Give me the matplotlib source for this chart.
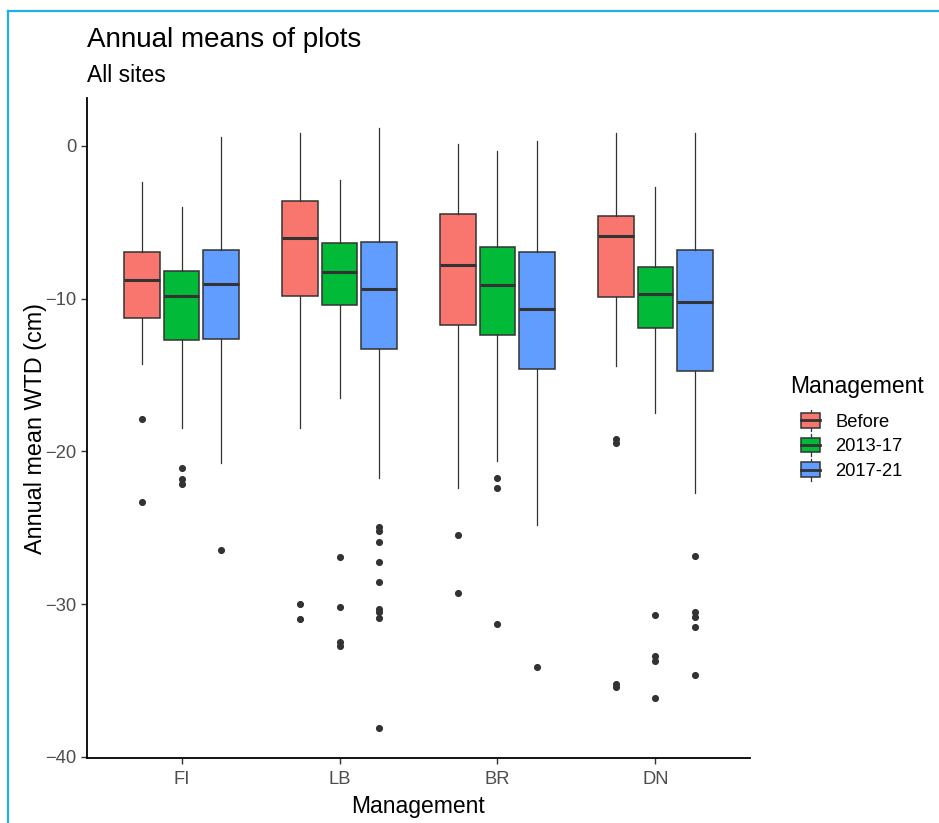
import matplotlib
matplotlib.use("Agg")
import matplotlib.pyplot as plt
from matplotlib.lines import Line2D
from matplotlib.patches import Rectangle, Patch
from matplotlib.legend_handler import HandlerBase

plt.rcParams['font.family'] = ['Liberation Sans', 'DejaVu Sans']

sites = ["FI", "LB", "BR", "DN"]
groups = ["Before", "2013-17", "2017-21"]
colors = ["#F8766D", "#00BA38", "#619CFF"]

# box stats per management group, one value per site (FI, LB, BR, DN)
before_whishi = [-2.33, 0.87, 0.13, 0.87]
before_q3 = [-6.97, -3.61, -4.44, -4.59]
before_med = [-8.78, -6.03, -7.82, -5.88]
before_q1 = [-11.29, -9.85, -11.74, -9.91]
before_whislo = [-14.26, -18.45, -22.37, -14.42]
before_fliers = [[-17.9, -23.3], [-30.02, -30.98], [-25.49, -29.28],
                 [-19.2, -19.45, -35.25, -35.4]]

g1317_whishi = [-3.97, -2.24, -0.33, -2.66]
g1317_q3 = [-8.17, -6.38, -6.6, -7.93]
g1317_med = [-9.82, -8.27, -9.08, -9.67]
g1317_q1 = [-12.70, -10.44, -12.4, -11.94]
g1317_whislo = [-18.45, -16.51, -20.61, -17.47]
g1317_fliers = [[-21.09, -21.83, -22.14], [-26.89, -30.17, -32.5, -32.72],
                [-21.76, -22.37, -31.29], [-30.7, -33.4, -33.7, -36.12]]

g1721_whishi = [0.57, 1.18, 0.35, 0.87]
g1721_q3 = [-6.82, -6.32, -6.97, -6.82]
g1721_med = [-9.02, -9.39, -10.65, -10.2]
g1721_q1 = [-12.61, -13.29, -14.6, -14.75]
g1721_whislo = [-20.74, -21.72, -24.84, -22.7]
g1721_fliers = [[-26.45],
                [-24.97, -25.21, -25.92, -27.25, -28.52, -30.33, -30.48, -30.89, -38.10],
                [-34.09], [-26.82, -30.54, -30.83, -31.5, -34.62]]

all_stats = [
    (before_whislo, before_q1, before_med, before_q3, before_whishi, before_fliers),
    (g1317_whislo, g1317_q1, g1317_med, g1317_q3, g1317_whishi, g1317_fliers),
    (g1721_whislo, g1721_q1, g1721_med, g1721_q3, g1721_whishi, g1721_fliers),
]

fig = plt.figure(figsize=(9.39, 8.23), dpi=100)
ax = fig.add_axes([87/939, 1-758/823, (750-87)/939, (758-98)/823])

edge = "#333333"
offsets = [-0.25, 0, 0.25]
for gi, (wlo, q1, med, q3, whi, fl) in enumerate(all_stats):
    stats = []
    for si in range(len(sites)):
        stats.append(dict(whislo=wlo[si], q1=q1[si], med=med[si], q3=q3[si],
                          whishi=whi[si], fliers=fl[si]))
    pos = [i + 1 + offsets[gi] for i in range(len(sites))]
    ax.bxp(stats, positions=pos, widths=0.225, patch_artist=True,
           showcaps=False, manage_ticks=False,
           boxprops=dict(facecolor=colors[gi], edgecolor=edge, linewidth=1.1),
           medianprops=dict(color=edge, linewidth=2.2),
           whiskerprops=dict(color=edge, linewidth=0.9),
           flierprops=dict(marker='o', markersize=4.1, markerfacecolor=edge,
                           markeredgecolor=edge, linestyle='none'))

ax.set_xlim(0.4, 4.6)
ax.set_ylim(-40.07, 3.14)
ax.set_xticks(range(1, len(sites) + 1))
ax.set_xticklabels(sites)
ax.set_yticks([0, -10, -20, -30, -40])
ax.tick_params(labelsize=13.2, labelcolor="#4D4D4D", color="#333333",
               length=4, width=1)
ax.tick_params(axis="x", pad=5.5)
for s in ["top", "right"]:
    ax.spines[s].set_visible(False)
for s in ["left", "bottom"]:
    ax.spines[s].set_linewidth(1.3)
    ax.spines[s].set_color("black")

ax.set_xlabel("Management", fontsize=16.5, labelpad=5)
ax.set_ylabel("Annual mean WTD (cm)", fontsize=16.8, labelpad=-1)
fig.text(87/939, 1-47/823, "Annual means of plots", fontsize=20, ha="left", va="baseline")
fig.text(87/939, 1-82/823, "All sites", fontsize=16.5, ha="left", va="baseline")


class BoxKey(HandlerBase):
    def create_artists(self, legend, orig_handle, xdescent, ydescent,
                       width, height, fontsize, trans):
        cx = width / 2 - xdescent
        line = Line2D([cx, cx], [-ydescent - 0.25*height, -ydescent + 1.25*height],
                      color=edge, linewidth=0.9, transform=trans)
        rect = Rectangle((-xdescent, -ydescent), width, height,
                         facecolor=orig_handle.get_facecolor(), edgecolor=edge,
                         linewidth=1.1, transform=trans)
        med = Line2D([-xdescent, -xdescent + width],
                     [-ydescent + height/2, -ydescent + height/2],
                     color=edge, linewidth=2.0, transform=trans)
        return [line, rect, med]


# legend title as its own text, then the keys below it
fig.text(790/939, 1-393/823, "Management", fontsize=16.5, ha="left", va="baseline")
handles = [Patch(facecolor=c) for c in colors]
leg = fig.legend(handles, groups, handler_map={Patch: BoxKey()},
                 loc="upper left", bbox_to_anchor=(792/939, 1-404/823),
                 frameon=False, fontsize=13.2, borderpad=0,
                 handlelength=1.05, handleheight=0.85, handletextpad=0.8,
                 labelspacing=0.38)

# screenshot frame (top and left edges)
frame_c = "#1CB0E8"
fig.add_artist(Line2D([7.5/939, 7.5/939], [0, 1-11/823], color=frame_c,
                      linewidth=1.6, transform=fig.transFigure))
fig.add_artist(Line2D([7.5/939, 1], [1-11/823, 1-11/823], color=frame_c,
                      linewidth=1.6, transform=fig.transFigure))

fig.savefig("out.png", dpi=100)
